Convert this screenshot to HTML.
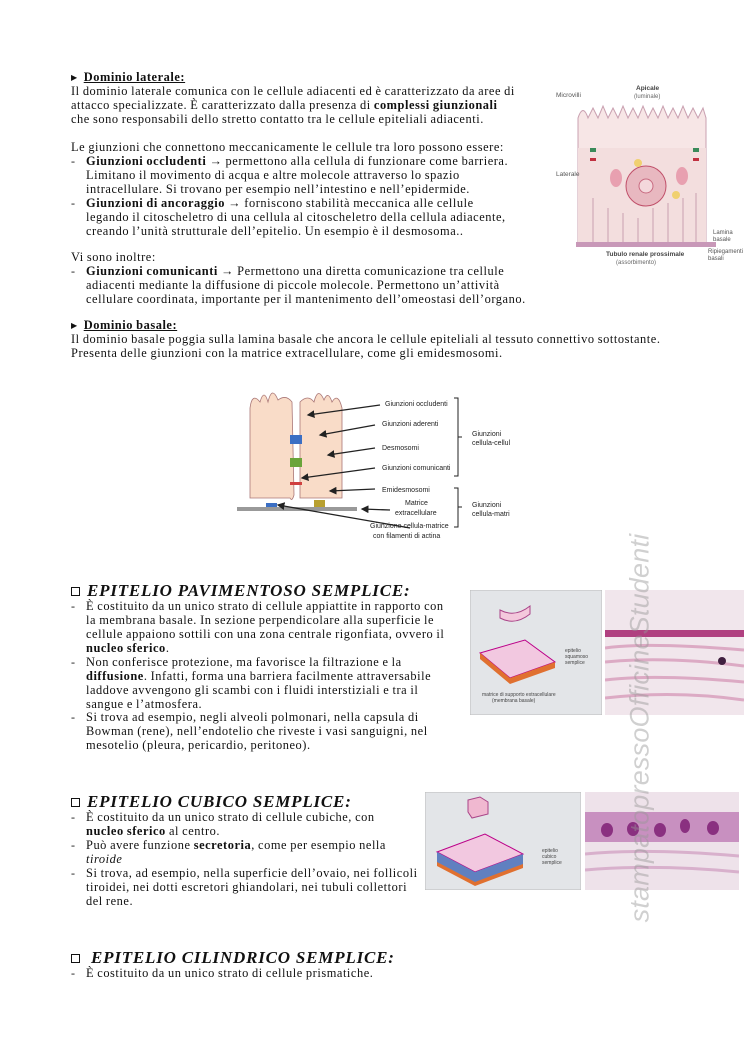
<!DOCTYPE html>
<html><head><meta charset="utf-8">
<style>
html,body{margin:0;padding:0;background:#fff}
body{width:744px;height:1052px;position:relative;overflow:hidden;font-family:"Liberation Serif",serif;color:#111}
.l{position:absolute;left:71px;white-space:nowrap;font-size:12.4px;line-height:14px;letter-spacing:0.55px;word-spacing:-0.5px}
.i{left:86px}
.d{position:absolute;left:71px;font-size:12px;line-height:14px}
.h{position:absolute;white-space:nowrap;font-weight:bold;font-style:italic;font-size:17px;line-height:18px;left:87px;letter-spacing:0.8px}
.sq{position:absolute;left:71px;width:7px;height:7px;border:1.2px solid #111}
.sub{font-weight:bold;text-decoration:underline}
.tri{font-size:8px;vertical-align:1px;margin-right:6px}
svg{position:absolute}
.wm{position:absolute;left:640px;top:728px;transform:translate(-50%,-50%) rotate(-90deg);font-family:"Liberation Sans",sans-serif;font-style:italic;font-size:27px;color:rgba(150,150,150,0.45);white-space:nowrap;letter-spacing:0.2px}
</style></head><body>

<div class="l" style="top:70px"><span class="tri">▶</span><span class="sub">Dominio laterale:</span></div>
<div class="l" style="top:84px">Il dominio laterale comunica con le cellule adiacenti ed è caratterizzato da aree di</div>
<div class="l" style="top:98px">attacco specializzate. È caratterizzato dalla presenza di <b>complessi giunzionali</b></div>
<div class="l" style="top:112px">che sono responsabili dello stretto contatto tra le cellule epiteliali adiacenti.</div>
<div class="l" style="top:140px">Le giunzioni che connettono meccanicamente le cellule tra loro possono essere:</div>
<div class="d" style="top:154px">-</div>
<div class="l i" style="top:154px"><b>Giunzioni occludenti</b> → permettono alla cellula di funzionare come barriera.</div>
<div class="l i" style="top:168px">Limitano il movimento di acqua e altre molecole attraverso lo spazio</div>
<div class="l i" style="top:182px">intracellulare. Si trovano per esempio nell’intestino e nell’epidermide.</div>
<div class="d" style="top:196px">-</div>
<div class="l i" style="top:196px"><b>Giunzioni di ancoraggio</b> → forniscono stabilità meccanica alle cellule</div>
<div class="l i" style="top:210px">legando il citoscheletro di una cellula al citoscheletro della cellula adiacente,</div>
<div class="l i" style="top:224px">creando l’unità strutturale dell’epitelio. Un esempio è il desmosoma..</div>
<div class="l" style="top:250px">Vi sono inoltre:</div>
<div class="d" style="top:264px">-</div>
<div class="l i" style="top:264px"><b>Giunzioni comunicanti</b> → Permettono una diretta comunicazione tra cellule</div>
<div class="l i" style="top:278px">adiacenti mediante la diffusione di piccole molecole. Permettono un’attività</div>
<div class="l i" style="top:292px">cellulare coordinata, importante per il mantenimento dell’omeostasi dell’organo.</div>
<div class="l" style="top:318px"><span class="tri">▶</span><span class="sub">Dominio basale:</span></div>
<div class="l" style="top:332px">Il dominio basale poggia sulla lamina basale che ancora le cellule epiteliali al tessuto connettivo sottostante.</div>
<div class="l" style="top:346px">Presenta delle giunzioni con la matrice extracellulare, come gli emidesmosomi.</div>

<!-- top right figure -->
<svg style="left:548px;top:78px" width="196" height="190" viewBox="0 0 196 190">
<text x="8" y="19" font-family="Liberation Sans" font-size="6.5" fill="#555">Microvilli</text>
<text x="88" y="12" font-family="Liberation Sans" font-size="6.5" font-weight="bold" fill="#444">Apicale</text>
<text x="86" y="20" font-family="Liberation Sans" font-size="6" fill="#666">(luminale)</text>
<path d="M30 100 L30 40 Q35 25 40 40 L45 30 L50 40 L55 28 L60 40 L65 30 L70 40 L75 28 L80 40 L85 30 L90 40 L95 28 L100 40 L105 30 L110 40 L115 28 L120 40 L125 30 L130 40 L135 28 L140 40 L145 30 L150 40 L155 30 L158 40 L158 168 L30 168 Z" fill="#f7e6e6" stroke="#c9a0b0" stroke-width="1"/>
<rect x="30" y="70" width="128" height="98" fill="#f3dede"/>
<circle cx="98" cy="108" r="20" fill="#e8b8c0" stroke="#c0506a"/>
<circle cx="98" cy="108" r="7" fill="#f4d8dc" stroke="#c86a80"/>
<circle cx="90" cy="85" r="4" fill="#f0d070"/><circle cx="128" cy="117" r="4" fill="#f0d070"/>
<ellipse cx="68" cy="100" rx="6" ry="9" fill="#e8a0b0"/><ellipse cx="134" cy="98" rx="6" ry="9" fill="#e8a0b0"/>
<g stroke="#c9a0b0" fill="none"><path d="M45 168 V120 M60 168 V130 M75 168 V135 M90 168 V140 M105 168 V130 M120 168 V125 M135 168 V120 M148 168 V115"/></g>
<rect x="42" y="70" width="6" height="4" fill="#3a8a5a"/><rect x="42" y="80" width="6" height="3" fill="#c03040"/>
<rect x="145" y="70" width="6" height="4" fill="#3a8a5a"/><rect x="145" y="80" width="6" height="3" fill="#c03040"/>
<rect x="28" y="164" width="140" height="5" fill="#c898b8"/>
<text x="8" y="98" font-family="Liberation Sans" font-size="6.5" fill="#555">Laterale</text>
<text x="165" y="156" font-family="Liberation Sans" font-size="6" fill="#555">Lamina</text>
<text x="165" y="163" font-family="Liberation Sans" font-size="6" fill="#555">basale</text>
<text x="160" y="175" font-family="Liberation Sans" font-size="6" fill="#555">Ripiegamenti</text>
<text x="160" y="182" font-family="Liberation Sans" font-size="6" fill="#555">basali</text>
<text x="58" y="178" font-family="Liberation Sans" font-size="6.5" font-weight="bold" fill="#444">Tubulo renale prossimale</text>
<text x="68" y="186" font-family="Liberation Sans" font-size="6" fill="#666">(assorbimento)</text>
</svg>

<!-- junctions diagram -->
<svg style="left:230px;top:380px" width="280" height="165" viewBox="0 0 280 165" font-family="Liberation Sans" font-size="7" fill="#222">
<defs><marker id="a" markerWidth="6" markerHeight="6" refX="5" refY="3" orient="auto"><path d="M0 0 L6 3 L0 6 Z" fill="#222"/></marker></defs>
<path d="M20 118 L20 28 Q22 12 30 22 Q34 8 38 22 Q42 5 48 20 Q56 14 62 22 L64 115 Q62 122 60 118 Z" fill="#f9dcc8" stroke="#a77" stroke-width="0.8"/>
<path d="M70 118 L70 22 Q78 14 84 22 Q88 6 94 20 Q98 10 102 22 Q108 12 112 28 L112 118 Z" fill="#f9dcc8" stroke="#a77" stroke-width="0.8"/>
<rect x="60" y="55" width="12" height="9" fill="#3b6fc4"/><rect x="60" y="78" width="12" height="9" fill="#6aa43a"/>
<rect x="60" y="102" width="12" height="3" fill="#d04040"/>
<rect x="36" y="123" width="11" height="8" fill="#3b6fc4"/><rect x="84" y="120" width="11" height="8" fill="#b8a030"/>
<rect x="7" y="127" width="120" height="4" fill="#999"/>
<g stroke="#222" stroke-width="1.3" marker-end="url(#a)"><line x1="150" y1="25" x2="78" y2="35"/><line x1="145" y1="45" x2="90" y2="55"/><line x1="145" y1="68" x2="98" y2="75"/><line x1="145" y1="88" x2="72" y2="98"/><line x1="145" y1="109" x2="100" y2="111"/><line x1="160" y1="130" x2="132" y2="129"/><line x1="180" y1="148" x2="48" y2="125"/></g>
<text x="155" y="26">Giunzioni occludenti</text><text x="152" y="46">Giunzioni aderenti</text><text x="152" y="70">Desmosomi</text><text x="152" y="90">Giunzioni comunicanti</text><text x="152" y="112">Emidesmosomi</text>
<text x="175" y="125">Matrice</text><text x="165" y="135">extracellulare</text><text x="140" y="148">Giunzione cellula-matrice</text><text x="143" y="158">con filamenti di actina</text>
<path d="M224 18 H228 V96 H224 M228 57 H232" stroke="#222" fill="none"/><path d="M224 108 H228 V147 H224 M228 127 H232" stroke="#222" fill="none"/>
<text x="242" y="56">Giunzioni</text><text x="242" y="65">cellula-cellula</text><text x="242" y="127">Giunzioni</text><text x="242" y="136">cellula-matrice</text>
</svg>

<div class="sq" style="top:587px"></div>
<div class="h" style="top:582px">EPITELIO PAVIMENTOSO SEMPLICE:</div>
<div class="d" style="top:599px">-</div>
<div class="l i" style="top:599px">È costituito da un unico strato di cellule appiattite in rapporto con</div>
<div class="l i" style="top:613px">la membrana basale. In sezione perpendicolare alla superficie le</div>
<div class="l i" style="top:627px">cellule appaiono sottili con una zona centrale rigonfiata, ovvero il</div>
<div class="l i" style="top:641px"><b>nucleo sferico</b>.</div>
<div class="d" style="top:655px">-</div>
<div class="l i" style="top:655px">Non conferisce protezione, ma favorisce la filtrazione e la</div>
<div class="l i" style="top:669px"><b>diffusione</b>. Infatti, forma una barriera facilmente attraversabile</div>
<div class="l i" style="top:683px">laddove avvengono gli scambi con i fluidi interstiziali e tra il</div>
<div class="l i" style="top:697px">sangue e l’atmosfera.</div>
<div class="d" style="top:710px">-</div>
<div class="l i" style="top:710px">Si trova ad esempio, negli alveoli polmonari, nella capsula di</div>
<div class="l i" style="top:724px">Bowman (rene), nell’endotelio che riveste i vasi sanguigni, nel</div>
<div class="l i" style="top:738px">mesotelio (pleura, pericardio, peritoneo).</div>

<svg style="left:470px;top:590px" width="132" height="125" viewBox="0 0 132 125" font-family="Liberation Sans" font-size="5">
<rect width="132" height="125" fill="#e3e5e8" stroke="#bbb"/>
<path d="M10 63 L55 50 L85 72 L40 88 Z" fill="#f2c8e0" stroke="#b08"/>
<path d="M10 63 L40 88 L40 94 L10 69 Z M40 88 L85 72 L85 78 L40 94 Z" fill="#e07030"/>
<path d="M30 20 Q45 28 60 16 L60 24 Q45 36 30 28 Z" fill="#f4c8dc" stroke="#a48"/>
<text x="95" y="62" fill="#444">epitelio</text><text x="95" y="68" fill="#444">squamoso</text><text x="95" y="74" fill="#444">semplice</text>
<text x="12" y="106" fill="#444">matrice di supporto extracellulare</text><text x="22" y="112" fill="#444">(membrana basale)</text>
</svg>
<svg style="left:605px;top:590px" width="139" height="125" viewBox="0 0 139 125">
<rect width="139" height="125" fill="#f1e6ec"/>
<rect x="0" y="40" width="139" height="7" fill="#b04080"/>
<g stroke="#dcaac4" stroke-width="3" fill="none"><path d="M0 58 Q40 52 139 60"/><path d="M0 72 Q60 66 139 76"/><path d="M0 90 Q50 84 139 92"/><path d="M0 108 Q70 100 139 110"/></g>
<circle cx="117" cy="71" r="4" fill="#402040"/>
</svg>

<div class="sq" style="top:798px"></div>
<div class="h" style="top:793px">EPITELIO CUBICO SEMPLICE:</div>
<div class="d" style="top:810px">-</div>
<div class="l i" style="top:810px">È costituito da un unico strato di cellule cubiche, con</div>
<div class="l i" style="top:824px"><b>nucleo sferico</b> al centro.</div>
<div class="d" style="top:838px">-</div>
<div class="l i" style="top:838px">Può avere funzione <b>secretoria</b>, come per esempio nella</div>
<div class="l i" style="top:852px"><i>tiroide</i></div>
<div class="d" style="top:866px">-</div>
<div class="l i" style="top:866px">Si trova, ad esempio, nella superficie dell’ovaio, nei follicoli</div>
<div class="l i" style="top:880px">tiroidei, nei dotti escretori ghiandolari, nei tubuli collettori</div>
<div class="l i" style="top:894px">del rene.</div>

<svg style="left:425px;top:792px" width="156" height="98" viewBox="0 0 156 98" font-family="Liberation Sans" font-size="5">
<rect width="156" height="98" fill="#e3e5e8" stroke="#bbb"/>
<path d="M12 60 L60 42 L98 62 L50 80 Z" fill="#f2c8e0" stroke="#b08"/>
<path d="M12 60 L50 80 L50 92 L12 72 Z M50 80 L98 62 L98 74 L50 92 Z" fill="#6080c0"/>
<path d="M12 70 L50 90 L50 94 L12 74 Z M50 90 L98 72 L98 76 L50 94 Z" fill="#e07030"/>
<path d="M43 8 L55 5 L63 10 L63 22 L47 26 L43 20 Z" fill="#f0b8d0" stroke="#a48"/>
<text x="117" y="60" fill="#444">epitelio</text><text x="117" y="66" fill="#444">cubico</text><text x="117" y="72" fill="#444">semplice</text>
</svg>
<svg style="left:585px;top:792px" width="154" height="98" viewBox="0 0 154 98">
<rect width="154" height="98" fill="#eee2ea"/>
<rect x="0" y="20" width="154" height="30" fill="#c890c0"/>
<g fill="#8a3080"><ellipse cx="22" cy="38" rx="6" ry="7"/><ellipse cx="48" cy="37" rx="6" ry="7"/><ellipse cx="75" cy="38" rx="6" ry="7"/><ellipse cx="100" cy="34" rx="5" ry="7"/><ellipse cx="128" cy="36" rx="6" ry="7"/></g>
<g stroke="#d8b0cc" stroke-width="3" fill="none"><path d="M0 62 Q60 56 154 64"/><path d="M0 78 Q70 72 154 80"/></g>
</svg>

<div class="sq" style="top:954px"></div>
<div class="h" style="top:949px;left:91px">EPITELIO CILINDRICO SEMPLICE:</div>
<div class="d" style="top:966px">-</div>
<div class="l i" style="top:966px">È costituito da un unico strato di cellule prismatiche.</div>

<div class="wm">stampatopressoOfficineStudenti</div>
</body></html>
